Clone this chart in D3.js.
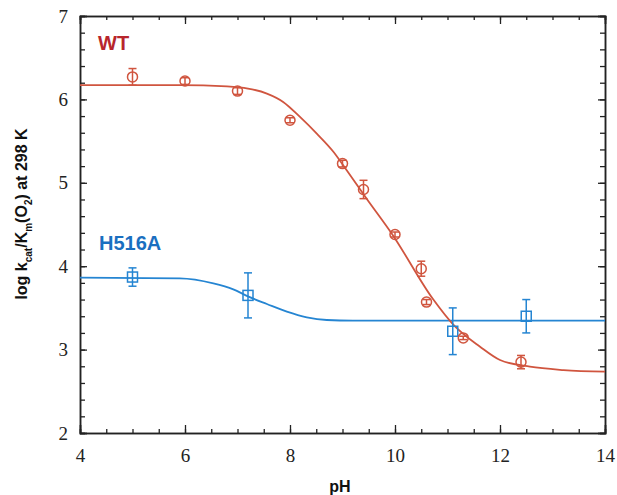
<!DOCTYPE html>
<html>
<head>
<meta charset="utf-8">
<script src="https://cdn.jsdelivr.net/npm/d3@7"></script>
<style>
  body { margin: 0; background: #fff; }
  svg { display: block; }
  .tick text { font-family: "Times New Roman", "Liberation Serif", serif !important; font-size: 19px; }
</style>
</head>
<body>
<div id="chart"></div>
<script>
// WT data points: pH, log kcat/Km, error
const wtPH = [5.0, 6.0, 7.0, 8.0, 9.0, 9.4, 10.0, 10.5, 10.6, 11.3, 12.4];
const wtVal = [6.27, 6.22, 6.10, 5.75, 5.23, 4.92, 4.38, 3.97, 3.57, 3.14, 2.85];
const wtErr = [0.10, 0.04, 0.04, 0.03, 0.04, 0.11, 0.03, 0.09, 0.03, 0.02, 0.08];

// H516A data points
const mutPH = [5.0, 7.2, 11.1, 12.5];
const mutVal = [3.87, 3.65, 3.22, 3.40];
const mutErr = [0.11, 0.27, 0.28, 0.20];

// fitted curves
const wtFitPH = [4.0, 5.9, 6.8, 7.2, 7.56, 7.87, 8.19, 8.51, 8.83, 9.08, 9.46, 9.94, 10.73, 11.11, 11.62, 12.0, 12.57, 13.21, 14.0];
const wtFitVal = [6.17, 6.17, 6.155, 6.13, 6.07, 5.97, 5.79, 5.59, 5.37, 5.15, 4.81, 4.39, 3.60, 3.30, 3.035, 2.875, 2.795, 2.755, 2.735];
const mutFitPH = [4.0, 5.9, 6.54, 6.92, 7.21, 7.56, 7.94, 8.32, 8.70, 9.2, 14.0];
const mutFitVal = [3.862, 3.855, 3.795, 3.723, 3.635, 3.547, 3.455, 3.387, 3.355, 3.347, 3.347];

const xMajor = [4, 6, 8, 10, 12, 14];
const yMajor = [2, 3, 4, 5, 6, 7];

const width = 617, height = 495;
const margin = { top: 16, right: 12, bottom: 62, left: 80 };
const red = "#d0553f", blue = "#2585d2";

const svg = d3.select("#chart").append("svg")
  .attr("width", width)
  .attr("height", height);

const x = d3.scaleLinear().domain([4, 14]).range([margin.left, width - margin.right]);
const y = d3.scaleLinear().domain([2, 7]).range([height - margin.bottom, margin.top]);

const xMinor = d3.range(4, 14.01, 0.5);
const yMinor = d3.range(2, 7.01, 0.2);

// axes: ticks point inward on all four sides
function drawAxis(axis, tr, vals, size, labels) {
  const g = svg.append("g").attr("transform", tr)
    .call(axis.tickValues(vals).tickSize(size).tickPadding(labels ? 12 : 0)
      .tickFormat(labels ? d3.format("d") : ""));
  g.attr("font-family", null).attr("font-size", null);
  g.select(".domain").attr("stroke", "#222").attr("stroke-width", 1.5);
  g.selectAll(".tick line").attr("stroke", "#222").attr("stroke-width", 1.3);
  g.selectAll("text").attr("fill", "#222");
  return g;
}
const yb = height - margin.bottom, xr = width - margin.right;
drawAxis(d3.axisBottom(x), `translate(0,${yb})`, xMinor, -4, false);
drawAxis(d3.axisBottom(x), `translate(0,${yb})`, xMajor, -8, true)
  .selectAll("text").attr("dy", "0.9em");
drawAxis(d3.axisTop(x), `translate(0,${margin.top})`, xMinor, -4, false);
drawAxis(d3.axisTop(x), `translate(0,${margin.top})`, xMajor, -8, false);
drawAxis(d3.axisLeft(y), `translate(${margin.left},0)`, yMinor, -5, false);
drawAxis(d3.axisLeft(y), `translate(${margin.left},0)`, yMajor, -7, true);
drawAxis(d3.axisRight(y), `translate(${xr},0)`, yMinor, -5, false);
drawAxis(d3.axisRight(y), `translate(${xr},0)`, yMajor, -7, false);

// fitted curves
const line = d3.line().x(d => x(d[0])).y(d => y(d[1])).curve(d3.curveMonotoneX);
svg.append("path")
  .datum(d3.zip(mutFitPH, mutFitVal))
  .attr("d", line).attr("fill", "none").attr("stroke", blue).attr("stroke-width", 1.8);
svg.append("path")
  .datum(d3.zip(wtFitPH, wtFitVal))
  .attr("d", line).attr("fill", "none").attr("stroke", red).attr("stroke-width", 1.8);

// error bars + markers
function drawPoints(phs, vals, errs, color, shape) {
  const data = phs.map((p, i) => ({ p, v: vals[i], e: errs[i] }));
  const g = svg.append("g").attr("stroke", color).attr("fill", "none").attr("stroke-width", 1.5);
  g.selectAll(".eb").data(data).enter().append("line")
    .attr("x1", d => x(d.p)).attr("x2", d => x(d.p))
    .attr("y1", d => y(d.v - d.e)).attr("y2", d => y(d.v + d.e));
  [-1, 1].forEach(s => {
    g.selectAll(".cap").data(data).enter().append("line")
      .attr("x1", d => x(d.p) - 4).attr("x2", d => x(d.p) + 4)
      .attr("y1", d => y(d.v + s * d.e)).attr("y2", d => y(d.v + s * d.e));
  });
  if (shape === "circle") {
    g.selectAll("circle").data(data).enter().append("circle")
      .attr("cx", d => x(d.p)).attr("cy", d => y(d.v)).attr("r", 5);
  } else {
    g.selectAll("rect").data(data).enter().append("rect")
      .attr("x", d => x(d.p) - 5).attr("y", d => y(d.v) - 5)
      .attr("width", 10).attr("height", 10);
  }
}
drawPoints(mutPH, mutVal, mutErr, blue, "square");
drawPoints(wtPH, wtVal, wtErr, red, "circle");

// series labels
svg.append("text").attr("x", 98).attr("y", 50)
  .attr("font-family", "Liberation Sans, Arial, sans-serif").attr("font-weight", "bold")
  .attr("font-size", 20).attr("fill", "#b8262c").text("WT");
svg.append("text").attr("x", 99).attr("y", 250)
  .attr("font-family", "Liberation Sans, Arial, sans-serif").attr("font-weight", "bold")
  .attr("font-size", 20).attr("fill", "#1a6fc0").text("H516A");

// axis titles
svg.append("text").attr("x", 340).attr("y", 492).attr("text-anchor", "middle")
  .attr("font-family", "Liberation Sans, Arial, sans-serif").attr("font-weight", "bold")
  .attr("font-size", 16).attr("fill", "#111").text("pH");

const ylab = svg.append("text")
  .attr("transform", "translate(27,214) rotate(-90)")
  .attr("text-anchor", "middle")
  .attr("font-family", "Liberation Sans, Arial, sans-serif").attr("font-weight", "bold")
  .attr("font-size", 16).attr("fill", "#111");
ylab.append("tspan").text("log k");
ylab.append("tspan").attr("font-size", 10).attr("dy", 5).text("cat");
ylab.append("tspan").attr("dy", -5).text("/K");
ylab.append("tspan").attr("font-size", 10).attr("dy", 5).text("m");
ylab.append("tspan").attr("dy", -5).text("(O");
ylab.append("tspan").attr("font-size", 10).attr("dy", 5).text("2");
ylab.append("tspan").attr("dy", -5).text(") at 298 K");
</script>
</body>
</html>
